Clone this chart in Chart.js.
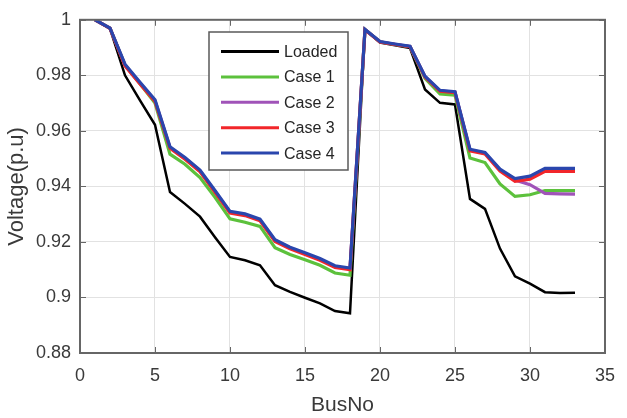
<!DOCTYPE html>
<html>
<head>
<meta charset="utf-8">
<title>Bus voltage profile</title>
<script src="https://cdn.jsdelivr.net/npm/chart.js@4.4.1/dist/chart.umd.min.js"></script>
<style>
    html, body { margin: 0; padding: 0; background: #fff; }
    #wrap { width: 627px; height: 418px; }
</style>
</head>
<body>
<div id="wrap"><canvas id="voltChart" width="627" height="418"></canvas></div>
<script>
// ---------- Data ----------
const busNo = [1, 2, 3, 4, 5, 6, 7, 8, 9, 10, 11, 12, 13, 14, 15, 16, 17,
    18, 19, 20, 21, 22, 23, 24, 25, 26, 27, 28, 29, 30, 31, 32, 33];

const loaded = [1.0, 0.9968, 0.9800, 0.9710, 0.9622, 0.9380, 0.9337, 0.9291, 0.9217, 0.9146, 0.9134,
    0.9116, 0.9044, 0.9020, 0.8999, 0.8979, 0.8951, 0.8943, 0.9964, 0.9918, 0.9908, 0.9898,
    0.9749, 0.9701, 0.9695, 0.9355, 0.9319, 0.9176, 0.9076, 0.9050, 0.9019, 0.9016, 0.9017];

const case1 = [1.0, 0.9970, 0.9837, 0.9770, 0.9700, 0.9516, 0.9480, 0.9432, 0.9361, 0.9283, 0.9271,
    0.9256, 0.9179, 0.9155, 0.9136, 0.9116, 0.9088, 0.9080, 0.9965, 0.9921, 0.9911, 0.9903,
    0.9789, 0.9733, 0.9729, 0.9502, 0.9486, 0.9409, 0.9364, 0.9370, 0.9385, 0.9385, 0.9385];

const case2 = [1.0, 0.9970, 0.9837, 0.9772, 0.9709, 0.9540, 0.9501, 0.9456, 0.9382, 0.9307, 0.9298,
    0.9279, 0.9205, 0.9178, 0.9158, 0.9137, 0.9111, 0.9103, 0.9965, 0.9921, 0.9912, 0.9904,
    0.9795, 0.9744, 0.9739, 0.9531, 0.9520, 0.9459, 0.9423, 0.9406, 0.9375, 0.9373, 0.9372];

const case3 = [1.0, 0.9969, 0.9834, 0.9769, 0.9706, 0.9537, 0.9498, 0.9453, 0.9379, 0.9304, 0.9295,
    0.9276, 0.9202, 0.9175, 0.9155, 0.9134, 0.9108, 0.9100, 0.9964, 0.9920, 0.9911, 0.9903,
    0.9794, 0.9743, 0.9738, 0.9528, 0.9517, 0.9455, 0.9418, 0.9426, 0.9454, 0.9454, 0.9454];

const case4 = [1.0, 0.9970, 0.9840, 0.9775, 0.9712, 0.9543, 0.9504, 0.9459, 0.9385, 0.9310, 0.9301,
    0.9282, 0.9208, 0.9181, 0.9161, 0.9140, 0.9114, 0.9106, 0.9965, 0.9922, 0.9913, 0.9905,
    0.9797, 0.9746, 0.9741, 0.9534, 0.9522, 0.9462, 0.9428, 0.9437, 0.9465, 0.9465, 0.9465];

const seriesNames = ['Loaded', 'Case 1', 'Case 2', 'Case 3', 'Case 4'];
const seriesValues = [loaded, case1, case2, case3, case4];

const xRange = [0, 35];
const xStep = 5;
const yRange = [0.88, 1];
const yStep = 0.02;

// ---------- Styles ----------
const seriesColors = ['#000000', '#5cc13c', '#a053b8', '#f2262a', '#2a46ad'];
const seriesWidths = [2.5, 3.2, 3.2, 3.2, 3.2];
const axisColor = '#666666';
const gridColor = '#e2e2e2';
const textColor = '#3a3a3a';
const fontFamily = '"Liberation Sans", Arial, Helvetica, sans-serif';

document.addEventListener('DOMContentLoaded', () => {
    const $ = (id) => document.getElementById(id);

    const datasets = seriesNames.map((name, i) => ({
        label: name,
        data: busNo.map((b, j) => ({ x: b, y: seriesValues[i][j] })),
        borderColor: seriesColors[i],
        backgroundColor: seriesColors[i],
        borderWidth: seriesWidths[i],
        pointRadius: 0,
        tension: 0,
        fill: false,
        // later series sit on top, like the plotting order
        order: seriesNames.length - 1 - i
    }));

    // box around the plot with inward tick marks on all four sides
    const axesBox = {
        id: 'axesBox',
        afterDatasetsDraw(chart) {
            const { ctx, chartArea: a, scales } = chart;
            const tickLen = 6;
            ctx.save();
            ctx.strokeStyle = axisColor;
            ctx.lineWidth = 1;
            ctx.beginPath();
            scales.x.ticks.forEach(t => {
                const px = Math.round(scales.x.getPixelForValue(t.value)) + 0.5;
                ctx.moveTo(px, a.bottom); ctx.lineTo(px, a.bottom - tickLen);
                ctx.moveTo(px, a.top); ctx.lineTo(px, a.top + tickLen);
            });
            scales.y.ticks.forEach(t => {
                const py = Math.round(scales.y.getPixelForValue(t.value)) + 0.5;
                ctx.moveTo(a.left, py); ctx.lineTo(a.left + tickLen, py);
                ctx.moveTo(a.right, py); ctx.lineTo(a.right - tickLen, py);
            });
            ctx.stroke();
            ctx.lineWidth = 2;
            ctx.strokeRect(a.left, a.top, a.right - a.left, a.bottom - a.top);
            ctx.restore();
        }
    };

    // legend drawn inside the plot, upper middle
    const innerLegend = {
        id: 'innerLegend',
        afterDraw(chart) {
            const { ctx } = chart;
            const box = { x: 209, y: 32, w: 139, h: 138 };
            const rowH = 25.4;
            ctx.save();
            ctx.fillStyle = '#ffffff';
            ctx.fillRect(box.x, box.y, box.w, box.h);
            ctx.strokeStyle = '#5a5a5a';
            ctx.lineWidth = 1.5;
            ctx.strokeRect(box.x, box.y, box.w, box.h);
            ctx.font = '16px ' + fontFamily;
            ctx.textBaseline = 'middle';
            chart.data.datasets.forEach((ds, i) => {
                const y = box.y + 19.5 + i * rowH;
                ctx.strokeStyle = ds.borderColor;
                ctx.lineWidth = 3;
                ctx.beginPath();
                ctx.moveTo(box.x + 12, y);
                ctx.lineTo(box.x + 70, y);
                ctx.stroke();
                ctx.fillStyle = '#262626';
                ctx.fillText(ds.label, box.x + 75, y + 1);
            });
            ctx.restore();
        }
    };

    new Chart($('voltChart'), {
        type: 'line',
        data: { datasets },
        options: {
            responsive: false,
            animation: false,
            devicePixelRatio: 1,
            layout: { padding: { top: 18, right: 11, left: 0, bottom: 0 } },
            plugins: { legend: { display: false }, tooltip: { enabled: false } },
            scales: {
                x: {
                    type: 'linear',
                    min: xRange[0],
                    max: xRange[1],
                    ticks: { stepSize: xStep, padding: 12, color: textColor, font: { family: fontFamily, size: 18 }, maxRotation: 0 },
                    grid: { color: gridColor, drawTicks: false },
                    border: { color: axisColor, width: 2 },
                    title: { display: true, text: 'BusNo', color: textColor, font: { family: fontFamily, size: 21 }, padding: { top: 0, bottom: 0 } },
                    afterFit(scale) { scale.height = 65; }
                },
                y: {
                    min: yRange[0],
                    max: yRange[1],
                    ticks: {
                        stepSize: yStep,
                        padding: 9,
                        color: textColor,
                        font: { family: fontFamily, size: 18 },
                        callback: (v) => String(Number(v.toFixed(2)))
                    },
                    grid: { color: gridColor, drawTicks: false },
                    border: { color: axisColor, width: 2 },
                    title: { display: true, text: 'Voltage(p.u)', color: textColor, font: { family: fontFamily, size: 22 }, padding: { top: 4, bottom: 0 } },
                    afterFit(scale) { scale.width = 80; }
                }
            }
        },
        plugins: [axesBox, innerLegend]
    });
});
</script>
</body>
</html>
